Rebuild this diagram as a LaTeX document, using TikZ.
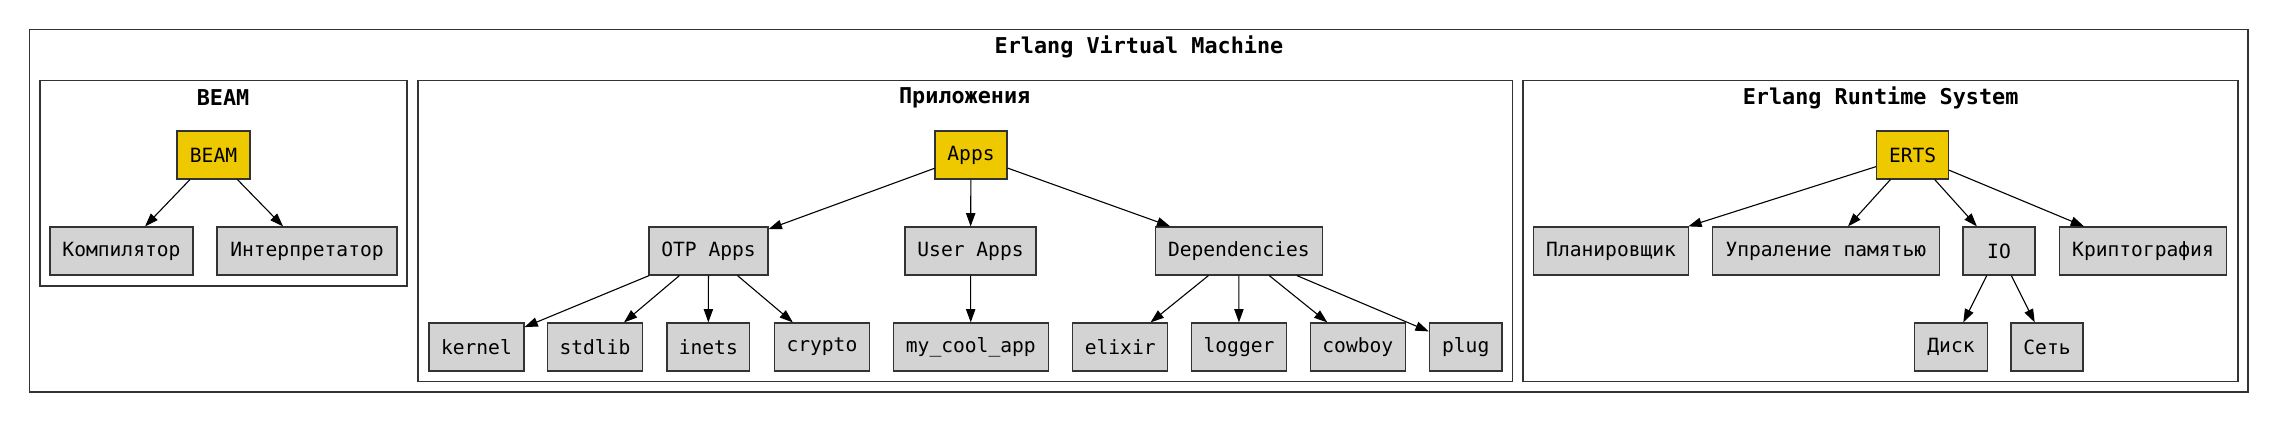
\documentclass[tikz,border=0pt]{standalone}
\usepackage{fontspec}
\newfontfamily\monofont{DejaVu Sans Mono}
\usetikzlibrary{arrows.meta}
\definecolor{gold}{HTML}{EEC900}
\definecolor{lgray}{HTML}{D3D3D3}
\definecolor{edgec}{HTML}{333333}
\tikzset{
  gbox/.style={draw=edgec, line width=1.2pt, fill=lgray, minimum height=48pt, inner sep=0pt,
    font=\monofont\fontsize{19.6}{22}\selectfont, text=black},
  ybox/.style={gbox, fill=gold},
  cluster/.style={draw=edgec, line width=1.2pt},
  ctitle/.style={font=\monofont\bfseries\fontsize{21.8}{24}\selectfont, inner sep=0pt},
  edge/.style={draw=black, line width=1.1pt, -{Triangle[length=13.3pt,width=9.3pt]}}
}
\begin{document}
\begin{tikzpicture}[x=1pt,y=-1pt]
\useasboundingbox (0,0) rectangle (2278,422);
\fill[white] (0,0) rectangle (2278,422);
% clusters
\draw[cluster] (29.5,29.5) rectangle (2248,392);
\node[ctitle] (tvm) at (1139,47) {Erlang Virtual Machine};
\draw[cluster] (40,80.5) rectangle (407,286);
\node[ctitle] (tbeam) at (223,98) {BEAM};
\draw[cluster] (418,80.5) rectangle (1512.5,381.5);
\node[ctitle] (tapps) at (964.7,98) {Приложения};
\draw[cluster] (1523,80.5) rectangle (2238,381.5);
\node[ctitle] (terts) at (1880.6,98) {Erlang Runtime System};
% BEAM
\node[ybox, minimum width=73pt] (beam) at (213.5,155) {BEAM};
\node[gbox, minimum width=143pt] (komp) at (121.5,251) {Компилятор};
\node[gbox, minimum width=180pt] (interp) at (307,251) {Интерпретатор};
% Apps
\node[ybox, minimum width=72pt] (apps) at (971,155) {Apps};
\node[gbox, minimum width=119pt] (otp) at (708.5,251) {OTP Apps};
\node[gbox, minimum width=131pt] (user) at (970.5,251) {User Apps};
\node[gbox, minimum width=167pt] (deps) at (1238.8,251) {Dependencies};
\node[gbox, minimum width=95pt] (kernel) at (476.4,347) {kernel};
\node[gbox, minimum width=95pt] (stdlib) at (594.9,347) {stdlib};
\node[gbox, minimum width=82.6pt] (inets) at (708.3,347) {inets};
\node[gbox, minimum width=94.7pt] (crypto) at (821.9,347) {crypto};
\node[gbox, minimum width=155pt] (mycool) at (970.8,347) {my\_cool\_app};
\node[gbox, minimum width=95pt] (elixir) at (1120.2,347) {elixir};
\node[gbox, minimum width=94.6pt] (logger) at (1239,347) {logger};
\node[gbox, minimum width=95pt] (cowboy) at (1357.8,347) {cowboy};
\node[gbox, minimum width=72.7pt] (plug) at (1465.7,347) {plug};
% ERTS
\node[ybox, minimum width=72pt] (erts) at (1912.6,155) {ERTS};
\node[gbox, minimum width=154.8pt] (plan) at (1611.1,251) {Планировщик};
\node[gbox, minimum width=226.7pt] (mem) at (1825.8,251) {Упраление памятью};
\node[gbox, minimum width=72pt] (io) at (1999,251) {IO};
\node[gbox, minimum width=166.7pt] (crypt) at (2143,251) {Криптография};
\node[gbox, minimum width=72.4pt] (disk) at (1951,347) {Диск};
\node[gbox, minimum width=72pt] (net) at (2047,347) {Сеть};
% edges
\draw[edge] (beam) -- (komp);
\draw[edge] (beam) -- (interp);
\draw[edge] (apps) -- (otp);
\draw[edge] (apps) -- (user);
\draw[edge] (apps) -- (deps);
\draw[edge] (otp) -- (kernel);
\draw[edge] (otp) -- (stdlib);
\draw[edge] (otp) -- (inets);
\draw[edge] (otp) -- (crypto);
\draw[edge] (user) -- (mycool);
\draw[edge] (deps) -- (elixir);
\draw[edge] (deps) -- (logger);
\draw[edge] (deps) -- (cowboy);
\draw[edge] (deps) -- (plug);
\draw[edge] (erts) -- (plan);
\draw[edge] (erts) -- (mem);
\draw[edge] (erts) -- (io);
\draw[edge] (erts) -- (crypt);
\draw[edge] (io) -- (disk);
\draw[edge] (io) -- (net);
\end{tikzpicture}
\end{document}
